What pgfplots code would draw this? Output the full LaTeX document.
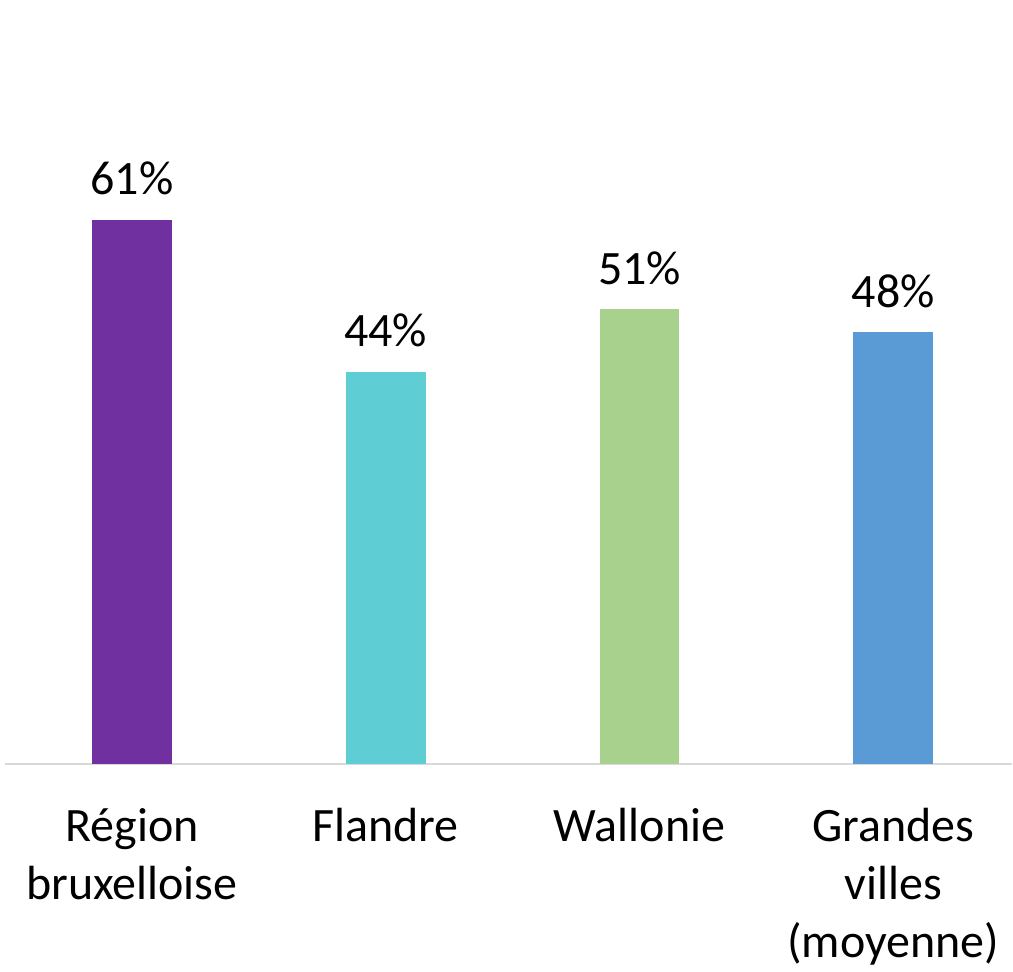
\documentclass[border=0pt]{standalone}
\usepackage{pgfplots}
\pgfplotsset{compat=1.18}
\usetikzlibrary{calc}
\usepackage{fontspec}
\setmainfont{Carlito}
\definecolor{cPurple}{HTML}{7030A0}
\definecolor{cCyan}{HTML}{5FCDD4}
\definecolor{cGreen}{HTML}{A9D18E}
\definecolor{cBlue}{HTML}{5B9BD5}
\definecolor{cAxis}{HTML}{D9D9D9}
\begin{document}
\begin{tikzpicture}
\begin{axis}[
  name=ax,
  scale only axis,
  width=504pt, height=382.5pt,
  xmin=-0.5, xmax=3.468,
  ymin=0, ymax=85.63,
  ybar, bar width=40pt, bar shift=0pt,
  hide y axis,
  axis x line*=bottom,
  x axis line style={draw=cAxis, line width=1pt, -},
  xtick={0,1,2,3},
  xticklabels={{\strut Région\\bruxelloise},{\strut Flandre},{\strut Wallonie},{\strut Grandes\\villes\\(moyenne)}},
  xtick style={draw=none},
  major tick length=0pt,
  xticklabel style={font=\fontsize{24}{29}\selectfont, align=center, inner sep=0pt, anchor=north, yshift=-18.2pt},
  /pgf/number format/assume math mode=true,
  /pgf/number format/fixed, /pgf/number format/precision=0,
  nodes near coords={\pgfmathprintnumber{\pgfplotspointmeta}\%},
  nodes near coords style={font=\fontsize{24}{29}\selectfont, anchor=base, yshift=12.5pt, text=black},
  clip=false,
]
\addplot[fill=cPurple, draw=none] coordinates {(0,61)};
\addplot[fill=cCyan, draw=none] coordinates {(1,44)};
\addplot[fill=cGreen, draw=none] coordinates {(2,51)};
\addplot[fill=cBlue, draw=none] coordinates {(3,48.4)};
\end{axis}
\useasboundingbox ($(ax.south west)+(-2.5pt,-103.5pt)$) rectangle (ax.north east);
\end{tikzpicture}
\end{document}
